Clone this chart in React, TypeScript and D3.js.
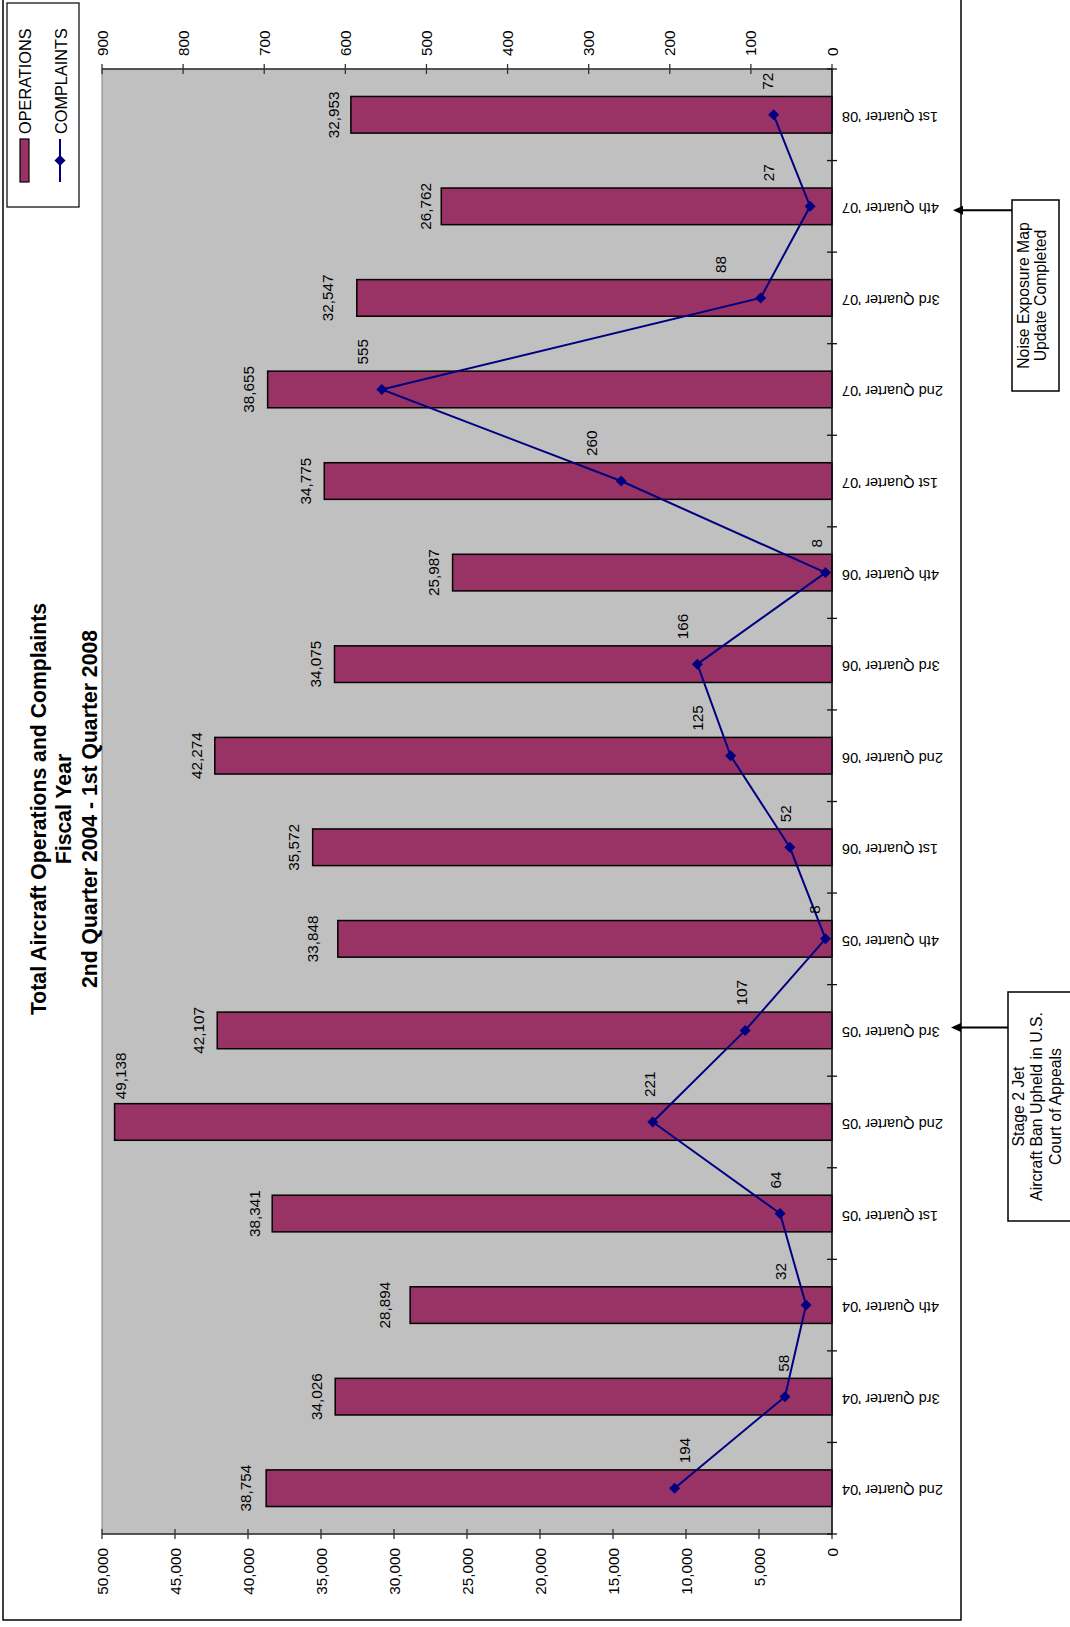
import React from "react";
import * as d3 from "d3";

const categories = [
  "2nd Quarter '04", "3rd Quarter '04", "4th Quarter '04",
  "1st Quarter '05", "2nd Quarter '05", "3rd Quarter '05", "4th Quarter '05",
  "1st Quarter '06", "2nd Quarter '06", "3rd Quarter '06", "4th Quarter '06",
  "1st Quarter '07", "2nd Quarter '07", "3rd Quarter '07", "4th Quarter '07",
  "1st Quarter '08",
];
const operations = [
  38754, 34026, 28894, 38341, 49138, 42107, 33848, 35572,
  42274, 34075, 25987, 34775, 38655, 32547, 26762, 32953,
];
const complaints = [194, 58, 32, 64, 221, 107, 8, 52, 125, 166, 8, 260, 555, 88, 27, 72];
const opsTicks = d3.range(0, 50001, 5000);
const cmpTicks = d3.range(0, 901, 100);
const titleLines = [
  "Total Aircraft Operations and Complaints",
  "Fiscal Year",
  "2nd Quarter 2004 - 1st Quarter 2008",
];
const legendLabels = ["OPERATIONS", "COMPLAINTS"];
const annotationCategories = ["4th Quarter '07", "3rd Quarter '05"];
const annotationTexts = [
  ["Noise Exposure Map", "Update Completed"],
  ["Stage 2 Jet", "Aircraft Ban Upheld in U.S.", "Court of Appeals"],
];
// manual nudges of the data labels (px)
const complaintLabelDx = [10, -1, -26, -5, -3, -4, -11, -4, -33, -15, -9, -30, -19, -40, -42, -6];
const barLabelDx = [-4, -2, -9, -1, 23, -2, -8, -2, -1, -2, -2, -2, -2, -12, 1, 0];
const barLabelDy = [0, 0, 0, 0, -46, 0, 0, 0, 0, 0, 0, 0, 0, 0, 0, 0];

const FONT = "'Liberation Sans', Arial, Helvetica, sans-serif";
const BAR = "#993366";
const LINE = "#000080";

export default function App() {
  const W = 1070;
  const H = 1627;
  const plot = { left: 102, right: 832, top: 69, bottom: 1534 };

  const y = d3.scaleBand<string>().domain(categories).range([plot.bottom, plot.top]);
  const step = y.step();
  const barH = step * 0.4;
  const cy = (c: string) => (y(c) as number) + step / 2;
  const xOps = d3.scaleLinear().domain([0, 50000]).range([plot.right, plot.left]);
  const xCmp = d3.scaleLinear().domain([0, 900]).range([plot.right, plot.left]);
  const fmt = d3.format(",");

  const line = d3
    .line<number>()
    .x((d) => xCmp(d))
    .y((_, i) => cy(categories[i]));

  const diamond = (px: number, py: number, r: number) =>
    `M${px},${py - r}L${px + r},${py}L${px},${py + r}L${px - r},${py}Z`;

  const fs = 15.3;

  const annBoxes = [
    { x0: 1012, x1: 1059, y0: 200, y1: 391, tip: 953, tx: 1023, gap: 17.5 },
    { x0: 1008, x1: 1080, y0: 992, y1: 1221, tip: 951, tx: 1018, gap: 18.5 },
  ];

  return (
    <div style={{ position: "absolute", left: 0, top: 0 }}>
      <svg width={W} height={H} viewBox={`0 0 ${W} ${H}`} style={{ display: "block", fontFamily: FONT }}>
        <rect x={0} y={0} width={W} height={H} fill="#ffffff" />
        {/* outer chart border */}
        <rect x={3} y={-3} width={958} height={1623} fill="#ffffff" stroke="#000" strokeWidth={1.5} />

        {/* plot area */}
        <rect
          x={plot.left}
          y={plot.top}
          width={plot.right - plot.left}
          height={plot.bottom - plot.top}
          fill="#C0C0C0"
          stroke="#808080"
          strokeWidth={1}
        />

        {/* bars */}
        {categories.map((c, i) => (
          <rect
            key={c}
            x={xOps(operations[i])}
            y={cy(c) - barH / 2}
            width={plot.right - xOps(operations[i])}
            height={barH}
            fill={BAR}
            stroke="#000"
            strokeWidth={1.5}
          />
        ))}

        {/* bar labels */}
        {categories.map((c, i) => (
          <text
            key={"bl" + c}
            transform={`translate(${xOps(operations[i]) - 17 + barLabelDx[i]},${cy(c) + barLabelDy[i]}) rotate(-90)`}
            textAnchor="middle"
            dominantBaseline="central"
            fontSize={fs}
            fill="#000"
          >
            {fmt(operations[i])}
          </text>
        ))}

        {/* axes */}
        <line x1={plot.left} x2={plot.right} y1={plot.top} y2={plot.top} stroke="#333" strokeWidth={1.5} />
        <line x1={plot.left} x2={plot.right} y1={plot.bottom} y2={plot.bottom} stroke="#333" strokeWidth={1.5} />
        <line x1={plot.right} x2={plot.right} y1={plot.top} y2={plot.bottom} stroke="#111" strokeWidth={1.5} />

        {opsTicks.map((t) => (
          <g key={"ot" + t}>
            <line x1={xOps(t)} x2={xOps(t)} y1={plot.bottom - 5} y2={plot.bottom + 5} stroke="#333" strokeWidth={1.3} />
            <text
              transform={`translate(${xOps(t)},${plot.bottom + 14}) rotate(-90)`}
              textAnchor="end"
              dominantBaseline="central"
              fontSize={fs}
            >
              {fmt(t)}
            </text>
          </g>
        ))}
        {cmpTicks.map((t) => (
          <g key={"ct" + t}>
            <line x1={xCmp(t)} x2={xCmp(t)} y1={plot.top - 5} y2={plot.top + 5} stroke="#333" strokeWidth={1.3} />
            <text
              transform={`translate(${xCmp(t)},${plot.top - 13}) rotate(-90)`}
              textAnchor="start"
              dominantBaseline="central"
              fontSize={fs}
            >
              {t}
            </text>
          </g>
        ))}
        {d3.range(categories.length + 1).map((k) => (
          <line
            key={"cat" + k}
            x1={plot.right - 5}
            x2={plot.right + 5}
            y1={plot.top + k * step}
            y2={plot.top + k * step}
            stroke="#111"
            strokeWidth={1.3}
          />
        ))}
        {categories.map((c) => (
          <text
            key={"cl" + c}
            transform={`translate(${plot.right + 10},${cy(c) + 2}) rotate(180)`}
            textAnchor="end"
            dominantBaseline="central"
            fontSize={14.6}
          >
            {c}
          </text>
        ))}

        {/* complaints line */}
        <path d={line(complaints) as string} fill="none" stroke={LINE} strokeWidth={2} />
        {categories.map((c, i) => (
          <path key={"m" + c} d={diamond(xCmp(complaints[i]), cy(c), 5.5)} fill={LINE} />
        ))}
        {categories.map((c, i) => (
          <text
            key={"cmpl" + c}
            transform={`translate(${xCmp(complaints[i]) + complaintLabelDx[i]},${cy(c) - 25}) rotate(-90)`}
            textAnchor="start"
            dominantBaseline="central"
            fontSize={fs}
          >
            {complaints[i]}
          </text>
        ))}

        {/* title */}
        {titleLines.map((t, k) => (
          <text
            key={"t" + k}
            transform={`translate(${38 + k * 25.5},${809}) rotate(-90)`}
            textAnchor="middle"
            dominantBaseline="central"
            fontSize={21.2}
            fontWeight="bold"
          >
            {t}
          </text>
        ))}

        {/* legend */}
        <rect x={7} y={3} width={72} height={204} fill="#fff" stroke="#000" strokeWidth={1.2} />
        <rect x={20} y={139} width={9} height={43} fill={BAR} stroke="#000" strokeWidth={1.2} />
        <line x1={60} x2={60} y1={139} y2={182} stroke={LINE} strokeWidth={2} />
        <path d={diamond(60, 160.5, 5.5)} fill={LINE} />
        {legendLabels.map((l, k) => (
          <text
            key={l}
            transform={`translate(${25 + k * 35.5},${134}) rotate(-90)`}
            textAnchor="start"
            dominantBaseline="central"
            fontSize={16.3}
          >
            {l}
          </text>
        ))}

        {/* annotations */}
        {annotationCategories.map((c, k) => {
          const b = annBoxes[k];
          const ay = cy(c) + (k === 0 ? 4 : -3);
          const lines = annotationTexts[k];
          const mid = (b.y0 + b.y1) / 2;
          return (
            <g key={"ann" + k}>
              <rect x={b.x0} y={b.y0} width={b.x1 - b.x0} height={b.y1 - b.y0} fill="#fff" stroke="#000" strokeWidth={1.5} />
              <line x1={b.x0} x2={b.tip + 8} y1={ay} y2={ay} stroke="#000" strokeWidth={2} />
              <path d={`M${b.tip},${ay}L${b.tip + 10},${ay - 4.5}L${b.tip + 10},${ay + 4.5}Z`} fill="#000" />
              {lines.map((t, j) => (
                <text
                  key={j}
                  transform={`translate(${b.tx + j * b.gap},${mid}) rotate(-90)`}
                  textAnchor="middle"
                  dominantBaseline="central"
                  fontSize={15.8}
                >
                  {t}
                </text>
              ))}
            </g>
          );
        })}
      </svg>
    </div>
  );
}
